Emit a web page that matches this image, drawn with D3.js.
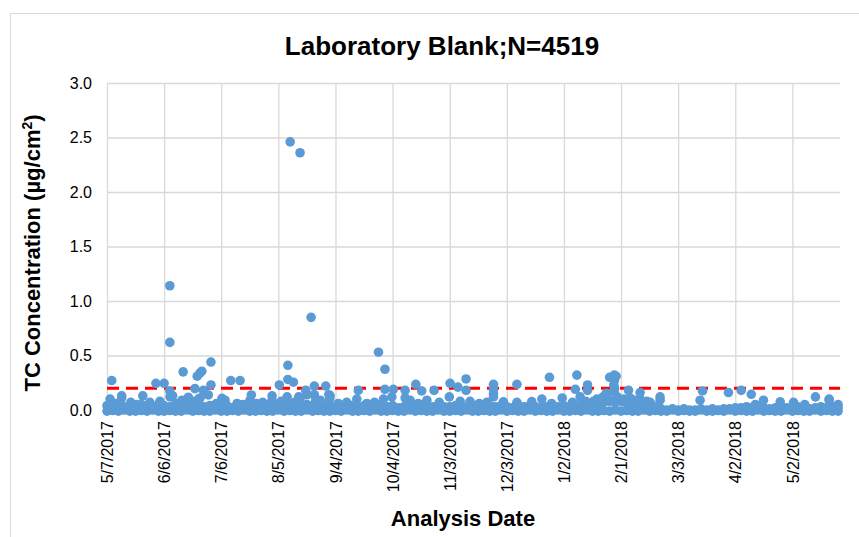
<!DOCTYPE html>
<html>
<head>
<meta charset="utf-8">
<script src="https://cdn.jsdelivr.net/npm/d3@7"></script>
<style>
  body { margin: 0; background: #fff; }
  svg { display: block; font-family: "Liberation Sans", Arial, sans-serif; }
</style>
</head>
<body>
<div id="chart"></div>
<script>
// axis range and ticks
const startDate = '2017-05-07';
const endDate = '2018-05-27';
const xTickDates = ['2017-05-07', '2017-06-06', '2017-07-06', '2017-08-05', '2017-09-04', '2017-10-04',
  '2017-11-03', '2017-12-03', '2018-01-02', '2018-02-01', '2018-03-03', '2018-04-02', '2018-05-02'];
const yTicks = [0, 0.5, 1.0, 1.5, 2.0, 2.5, 3.0];
const limitValue = 0.2;

// dense band of near-zero blanks (days after startDate)
const bandDay = [0, 3, 6, 9, 12, 15, 18, 21, 24, 27, 30, 33, 36, 39, 42, 45, 48, 51, 54, 57,
  60, 63, 66, 69, 72, 75, 78, 81, 84, 87, 90, 93, 96, 99, 102, 105, 108, 111, 114, 117,
  120, 123, 126, 129, 132, 135, 138, 141, 144, 147, 150, 153, 156, 159, 162, 165, 168, 171, 174, 177,
  180, 183, 186, 189, 192, 195, 198, 201, 204, 207, 210, 213, 216, 219, 222, 225, 228, 231, 234, 237,
  240, 243, 246, 249, 252, 255, 258, 261, 264, 267, 270, 273, 276, 279, 282, 285, 288, 291, 294, 297,
  300, 303, 306, 309, 312, 315, 318, 321, 324, 327, 330, 333, 336, 339, 342, 345, 348, 351, 354, 357,
  360, 363, 366, 369, 372, 375, 378, 381, 384];
const bandFloor = [-0.01, -0.005, -0.01, 0, -0.01, -0.01, -0.005, -0.01, 0, -0.01,
  -0.01, -0.005, -0.01, -0.01, 0, -0.01, -0.005, -0.01, -0.01, 0,
  -0.01, -0.01, -0.005, -0.01, 0, -0.01, -0.01, -0.005, -0.01, -0.01,
  0, -0.01, -0.005, -0.01, -0.01, 0, -0.01, -0.005, -0.01, -0.01,
  -0.005, -0.01, 0, -0.01, -0.01, -0.005, -0.01, 0, -0.01, -0.01,
  -0.005, -0.01, -0.01, 0, -0.01, -0.005, -0.01, -0.01, 0, -0.01,
  -0.01, -0.005, -0.01, 0, -0.01, -0.01, -0.005, -0.01, -0.01, 0,
  -0.01, -0.005, -0.01, -0.01, 0, -0.01, -0.005, -0.01, -0.01, 0,
  -0.01, -0.01, -0.005, -0.01, 0, -0.01, -0.01, -0.005, -0.01, 0,
  -0.01, -0.005, -0.01, -0.01, 0, -0.01, -0.005, -0.01, -0.01, 0,
  -0.01, -0.005, -0.01, -0.01, 0, -0.01, -0.01, -0.005, -0.01, 0,
  -0.01, -0.005, -0.01, -0.01, 0, -0.01, -0.005, -0.01, -0.01, 0,
  -0.01, -0.005, -0.01, -0.01, 0, -0.01, -0.005, -0.01, -0.01];
const bandTop = [0.04, 0.03, 0.05, 0.03, 0.04, 0.02, 0.05, 0.04, 0.03, 0.05,
  0.04, 0.03, 0.05, 0.04, 0.02, 0.04, 0.05, 0.03, 0.04, 0.05,
  0.03, 0.04, 0.02, 0.05, 0.04, 0.03, 0.05, 0.04, 0.05, 0.03,
  0.05, 0.04, 0.05, 0.03, 0.04, 0.05, 0.04, 0.03, 0.04, 0.03,
  0.03, 0.04, 0.02, 0.04, 0.03, 0.04, 0.03, 0.02, 0.04, 0.03,
  0.04, 0.02, 0.03, 0.04, 0.03, 0.04, 0.02, 0.03, 0.04, 0.03,
  0.03, 0.04, 0.02, 0.03, 0.04, 0.03, 0.02, 0.04, 0.03, 0.04,
  0.03, 0.02, 0.04, 0.03, 0.04, 0.03, 0.02, 0.03, 0.04, 0.03,
  0.04, 0.03, 0.04, 0.05, 0.04, 0.05,
  0.06, 0.07, 0.08, 0.07, 0.08, 0.06, 0.07, 0.06, 0.05, 0.04, 0.03,
  0.01, 0.0, 0.01, 0.0, 0.01, 0.0, 0.0, 0.01, 0.0, 0.01, 0.0, 0.01, 0.01, 0.02,
  0.02, 0.03, 0.02, 0.03, 0.02, 0.01, 0.02, 0.03, 0.02, 0.02, 0.03, 0.02, 0.01, 0.02, 0.03, 0.02, 0.03, 0.02];

// small bumps above the band
const bumpDay = [1.6, 7.7, 27.8, 33.1, 39.4, 43.6, 48.9, 62, 68.3, 75.1, 81.8, 86.7, 94.6, 101.4, 105,
  112, 117, 125.9, 131.2, 145.2, 149.6, 156.6, 159.2, 168, 179.8, 185.5, 190.7, 199.5, 208.2, 215.3,
  223.1, 228.4, 239.1, 248.5, 255.5, 262.5, 257.3, 260.6, 268, 274.8, 280, 285.3, 290.5, 311.5,
  344.8, 353.6, 360.6, 379.3, 384,
  4.5, 12.5, 15.5, 22.5, 36.5, 45.5, 57.5, 71.5, 78.5, 91.5, 98.5, 109.5, 121.5, 136.5, 140.5,
  163.5, 174.5, 195.5, 233.5, 244.5, 251.5, 264.5, 271.5, 277.5, 283.5, 340.5, 366.5];
const bumpValue = [0.10, 0.11, 0.08, 0.12, 0.09, 0.09, 0.11, 0.09, 0.06, 0.09, 0.07, 0.09, 0.12, 0.10, 0.14,
  0.09, 0.10, 0.07, 0.10, 0.10, 0.12, 0.11, 0.09, 0.09, 0.12, 0.08, 0.08, 0.07, 0.075, 0.07,
  0.077, 0.10, 0.11, 0.12, 0.08, 0.138, 0.10, 0.12, 0.12, 0.11, 0.10, 0.07, 0.09, 0.09,
  0.09, 0.075, 0.07, 0.09, 0.05,
  0.06, 0.07, 0.05, 0.07, 0.06, 0.07, 0.06, 0.05, 0.06, 0.08, 0.07, 0.08, 0.06, 0.06, 0.07,
  0.06, 0.07, 0.06, 0.06, 0.07, 0.08, 0.09, 0.10, 0.09, 0.08, 0.05, 0.05];

// higher results
const spikeDay = [2.5, 7.7, 18.8, 25.7, 30, 33, 33, 33, 34.5, 40, 42.7, 46.2, 47.4, 48, 48.9, 49.8, 50.6,
  53.2, 54.6, 54.6, 60.4, 65, 69.9, 75.8, 86.7, 90.5, 95, 95, 96.2, 97.9, 100.7, 101.4, 104.4,
  107.2, 108.9, 108.9, 114.9, 116.5, 117.2, 132, 142.6, 146, 146, 150.4, 156.6, 162.2, 165.3,
  171.8, 180.2, 184.3, 188.6, 188.6, 203, 203, 203, 203, 215.3, 232.4, 246, 246.8, 252.4, 252.4,
  262.2, 264, 266.4, 267.4, 266.5, 266.2, 266.6, 266.4, 273.9, 280, 290.5, 312.8, 326.4, 333.1,
  338.4, 372.1, 379.3];
const spikeValue = [0.27, 0.13, 0.13, 0.245, 0.245, 1.14, 0.62, 0.175, 0.13, 0.35, 0.117, 0.196, 0.31, 0.10, 0.34, 0.356, 0.18,
  0.138, 0.44, 0.23, 0.107, 0.27, 0.27, 0.138, 0.13, 0.23, 0.41, 0.28, 2.46, 0.255, 0.12, 2.36, 0.18,
  0.85, 0.22, 0.14, 0.22, 0.14, 0.13, 0.18, 0.53, 0.374, 0.19, 0.19, 0.18, 0.236, 0.175,
  0.18, 0.245, 0.21, 0.285, 0.18, 0.236, 0.19, 0.15, 0.12, 0.236, 0.30, 0.19, 0.32, 0.23, 0.18,
  0.153, 0.30, 0.32, 0.31, 0.27, 0.23, 0.20, 0.17, 0.18, 0.16, 0.12, 0.175, 0.16, 0.18,
  0.144, 0.12, 0.10];

const style = {
  dot: { color: '#5B9BD5', radius: 4.8 },
  grid: { color: '#d9d9d9', width: 1.3 },
  limit: { color: '#FF0000', width: 3, dash: '12,7' },
  ticks: { size: 16, color: '#000' },
  axisTitle: { size: 22 },
  title: { size: 26 },
};

const W = 859;
const H = 537;
const margin = { top: 83, right: 19, bottom: 127, left: 107 };
const width = W - margin.left - margin.right;
const height = H - margin.top - margin.bottom;

const parseDay = d3.utcParse('%Y-%m-%d');
const start = parseDay(startDate);
const dayToDate = (d) => new Date(start.getTime() + d * 864e5);

const points = [];
bandDay.forEach((d, i) => {
  points.push({ day: d, value: bandFloor[i] });
  points.push({ day: d, value: bandTop[i] });
});
bumpDay.forEach((d, i) => points.push({ day: d, value: bumpValue[i] }));
spikeDay.forEach((d, i) => points.push({ day: d, value: spikeValue[i] }));

const x = d3.scaleUtc()
  .domain([start, parseDay(endDate)])
  .range([0, width]);

const y = d3.scaleLinear()
  .domain([0, 3])
  .range([height, 0]);

const svgRoot = d3.select('#chart').append('svg')
  .attr('width', W)
  .attr('height', H);

svgRoot.append('rect')
  .attr('width', W)
  .attr('height', H)
  .attr('fill', '#fff');

// chart border (cropped at right/bottom in the original)
svgRoot.append('rect')
  .attr('x', 10.5)
  .attr('y', 13.5)
  .attr('width', W + 20)
  .attr('height', H + 20)
  .attr('fill', 'none')
  .attr('stroke', style.grid.color)
  .attr('stroke-width', 1);

const svg = svgRoot.append('g')
  .attr('transform', `translate(${margin.left}, ${margin.top})`);

// horizontal gridlines + y labels
const yAxis = d3.axisLeft(y)
  .tickValues(yTicks)
  .tickFormat(d3.format('.1f'))
  .tickSize(-width)
  .tickPadding(15);

svg.append('g')
  .attr('class', 'chart__y-axis')
  .call(yAxis);

svg.selectAll('.chart__y-axis .domain').remove();
svg.selectAll('.chart__y-axis line')
  .attr('stroke', style.grid.color)
  .attr('stroke-width', style.grid.width);
svg.selectAll('.chart__y-axis text')
  .attr('font-size', style.ticks.size)
  .attr('fill', style.ticks.color);

// vertical gridlines + rotated date labels
const xAxis = d3.axisBottom(x)
  .tickValues(xTickDates.map(parseDay))
  .tickFormat(d3.utcFormat('%-m/%-d/%Y'))
  .tickSize(-height);

svg.append('g')
  .attr('class', 'chart__x-axis')
  .attr('transform', `translate(0, ${height})`)
  .call(xAxis);

svg.selectAll('.chart__x-axis .domain').remove();
svg.selectAll('.chart__x-axis line')
  .attr('stroke', style.grid.color)
  .attr('stroke-width', style.grid.width);
svg.selectAll('.chart__x-axis text')
  .attr('transform', 'rotate(-90)')
  .attr('x', -11)
  .attr('y', 0)
  .attr('dy', '0.35em')
  .attr('text-anchor', 'end')
  .attr('font-size', style.ticks.size)
  .attr('fill', style.ticks.color);

// 0.2 limit line
svg.append('line')
  .attr('x1', 0)
  .attr('x2', width)
  .attr('y1', y(limitValue))
  .attr('y2', y(limitValue))
  .attr('stroke', style.limit.color)
  .attr('stroke-width', style.limit.width)
  .attr('stroke-dasharray', style.limit.dash);

svg.append('g')
  .attr('class', 'chart__dots')
  .selectAll('circle')
  .data(points)
  .enter()
  .append('circle')
  .attr('cx', (d) => x(dayToDate(d.day)))
  .attr('cy', (d) => y(d.value))
  .attr('r', style.dot.radius)
  .attr('fill', style.dot.color);

// titles
svgRoot.append('text')
  .attr('x', 442)
  .attr('y', 55)
  .attr('text-anchor', 'middle')
  .attr('font-size', style.title.size)
  .attr('font-weight', 'bold')
  .text('Laboratory Blank;N=4519');

const yTitle = svgRoot.append('text')
  .attr('transform', 'translate(32, 253) rotate(-90)')
  .attr('dy', '0.35em')
  .attr('text-anchor', 'middle')
  .attr('font-size', style.axisTitle.size)
  .attr('font-weight', 'bold');
yTitle.append('tspan').text('TC Concentration (µg/cm');
yTitle.append('tspan').attr('baseline-shift', 'super').attr('font-size', 14).text('2');
yTitle.append('tspan').text(')');

svgRoot.append('text')
  .attr('x', 463)
  .attr('y', 526)
  .attr('text-anchor', 'middle')
  .attr('font-size', style.axisTitle.size)
  .attr('font-weight', 'bold')
  .text('Analysis Date');
</script>
</body>
</html>
